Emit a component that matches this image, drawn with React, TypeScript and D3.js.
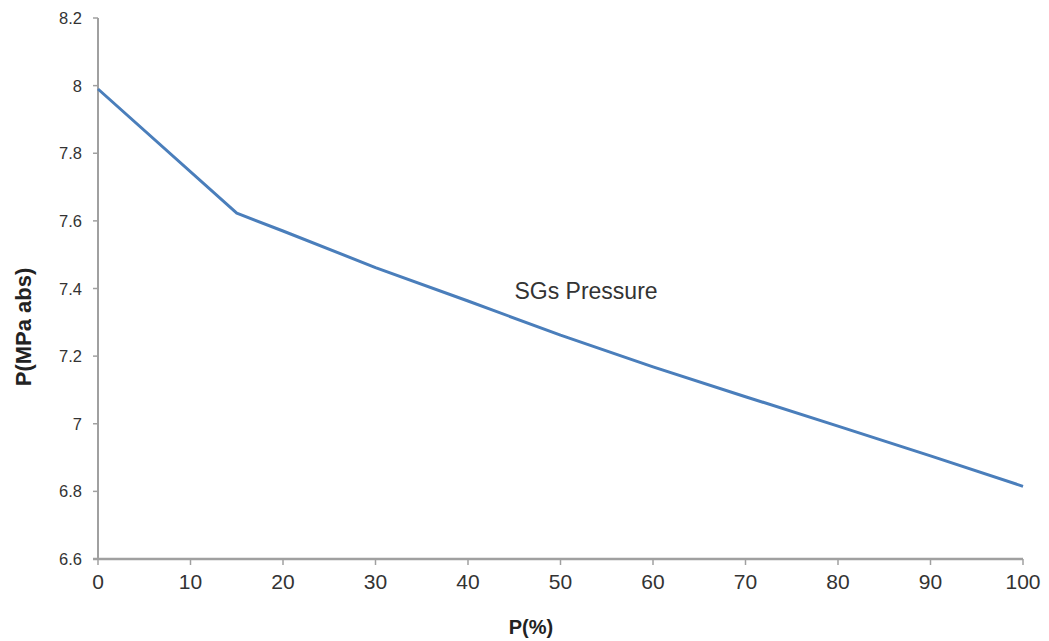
import React from "react";
import * as d3 from "d3";

const xValues = [0, 15, 20, 30, 40, 50, 60, 70, 80, 90, 100];
const pressureValues = [7.99, 7.623, 7.57, 7.462, 7.363, 7.262, 7.168, 7.08, 6.993, 6.905, 6.815];
const xTicks = [0, 10, 20, 30, 40, 50, 60, 70, 80, 90, 100];
const yTicks = [6.6, 6.8, 7, 7.2, 7.4, 7.6, 7.8, 8, 8.2];
const seriesLabel = "SGs Pressure";
const xTitle = "P(%)";
const yTitle = "P(MPa abs)";

const W = 1049;
const H = 641;
const FONT = "'Liberation Sans', Arial, sans-serif";

export default function App() {
  const x = d3.scaleLinear().domain([0, 100]).range([98, 1023]);
  const y = d3.scaleLinear().domain([6.6, 8.2]).range([559, 18]);
  const pts = xValues.map((v, i) => [v, pressureValues[i]] as [number, number]);
  const line = d3
    .line<[number, number]>()
    .x((d) => x(d[0]))
    .y((d) => y(d[1]));

  return (
    <svg
      width={W}
      height={H}
      style={{ position: "absolute", left: 0, top: 0, background: "#fff" }}
      fontFamily={FONT}
    >
      {/* y axis */}
      <line x1={x(0)} x2={x(0)} y1={y(8.2)} y2={y(6.6)} stroke="#a0a0a0" strokeWidth={2} />
      {yTicks.map((t) => (
        <g key={"y" + t}>
          <line x1={x(0) - 5} x2={x(0)} y1={y(t)} y2={y(t)} stroke="#a0a0a0" strokeWidth={1.5} />
          <text
            x={x(0) - 16}
            y={y(t)}
            textAnchor="end"
            dominantBaseline="central"
            fontSize={16.5}
            fill="#333"
          >
            {d3.format("")(+t.toFixed(1))}
          </text>
        </g>
      ))}
      {/* x axis */}
      <line x1={x(0) - 5} x2={x(100)} y1={y(6.6)} y2={y(6.6)} stroke="#a0a0a0" strokeWidth={2.5} />
      {xTicks.map((t) => (
        <g key={"x" + t}>
          <line x1={x(t)} x2={x(t)} y1={y(6.6)} y2={y(6.6) + 6} stroke="#a0a0a0" strokeWidth={1.5} />
          <text x={x(t)} y={y(6.6) + 30} textAnchor="middle" fontSize={21} fill="#333">
            {t}
          </text>
        </g>
      ))}
      {/* series */}
      <path d={line(pts) || ""} fill="none" stroke="#4a7ebb" strokeWidth={3} strokeLinejoin="round" />
      <text x={586} y={299} textAnchor="middle" fontSize={23} fill="#333">
        {seriesLabel}
      </text>
      {/* axis titles */}
      <text x={531} y={634} textAnchor="middle" fontSize={20} fontWeight="bold" fill="#222">
        {xTitle}
      </text>
      <text
        transform={`translate(31,${327}) rotate(-90)`}
        textAnchor="middle"
        fontSize={22}
        fontWeight="bold"
        fill="#222"
      >
        {yTitle}
      </text>
    </svg>
  );
}
